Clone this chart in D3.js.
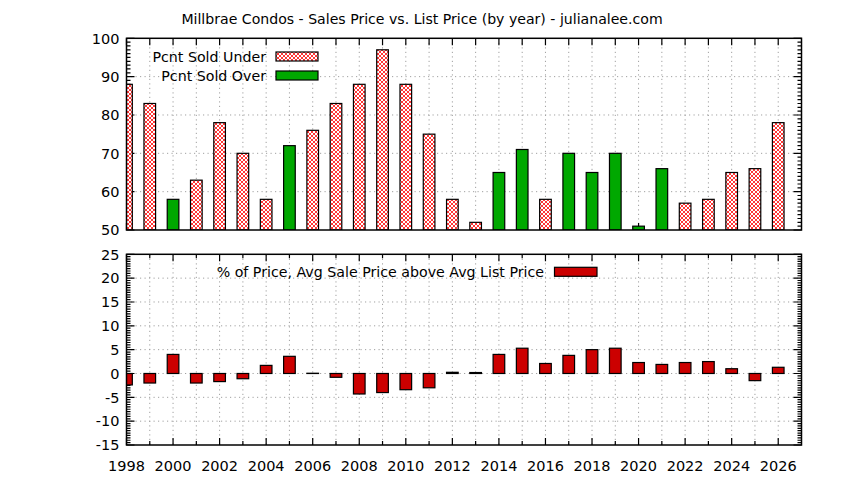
<!DOCTYPE html>
<html>
<head>
<meta charset="utf-8">
<script src="https://cdn.jsdelivr.net/npm/d3@7"></script>
<style>
  html, body { margin: 0; padding: 0; background: #fff; }
  svg { display: block; }
  text { font-family: "DejaVu Sans", sans-serif; fill: #000; }
</style>
</head>
<body>
<svg id="chart" width="844" height="480"></svg>
<script>
// ---------------- data ----------------
const titleText = "Millbrae Condos - Sales Price vs. List Price (by year) - julianalee.com";
const years = [1998,1999,2000,2001,2002,2003,2004,2005,2006,2007,2008,2009,2010,2011,2012,
               2013,2014,2015,2016,2017,2018,2019,2020,2021,2022,2023,2024,2025,2026];
const pctSoldUnder = [88,83,null,63,78,70,58,null,76,83,88,97,88,75,58,
                      52,null,null,58,null,null,null,null,null,57,58,65,66,78];
const pctSoldOver  = [null,null,58,null,null,null,null,72,null,null,null,null,null,null,null,
                      null,65,71,null,70,65,70,51,66,null,null,null,null,null];
const pctAboveList = [-2.4,-2.0,4.0,-2.0,-1.7,-1.1,1.7,3.6,0.05,-0.8,-4.3,-4.0,-3.4,-3.0,0.25,
                      0.2,4.0,5.3,2.1,3.8,5.0,5.3,2.3,1.9,2.3,2.5,1.0,-1.5,1.3];
const topYTicks = [50,60,70,80,90,100];
const botYTicks = [-15,-10,-5,0,5,10,15,20,25];
const xTickLabels = [1998,2000,2002,2004,2006,2008,2010,2012,2014,2016,2018,2020,2022,2024,2026];
const legendTop = ["Pcnt Sold Under", "Pcnt Sold Over"];
const legendBottom = "% of Price, Avg Sale Price above Avg List Price";

// ---------------- layout ----------------
const svg = d3.select("#chart");
const L = 126.5, R = 801.5;
const top1 = 38.3, bot1 = 230;
const top2 = 254.3, bot2 = 445;
const FS = 14.5;
const greenC = "#00a800", redC = "#cc0000", gridC = "#a0a0a0";

const x = d3.scaleLinear().domain([1998, 2027]).range([L, R]);
const y1 = d3.scaleLinear().domain([50, 100]).range([bot1, top1]);
const y2 = d3.scaleLinear().domain([-15, 25]).range([bot2, top2]);
const barW = x(1998.5) - x(1998);

// pattern for hatched fill
const defs = svg.append("defs");
const pat = defs.append("pattern").attr("id", "xhatch").attr("patternUnits", "userSpaceOnUse")
  .attr("width", 4).attr("height", 4);
pat.append("rect").attr("width", 4).attr("height", 4).attr("fill", "#fff");
pat.append("path").attr("d", "M0,0L4,4M4,0L0,4M-1,3L1,5M3,-1L5,1M-1,1L1,-1M3,5L5,3")
  .attr("stroke", "#ff2020").attr("stroke-width", 0.9).attr("fill", "none");
defs.append("clipPath").attr("id", "clip1").append("rect")
  .attr("x", L).attr("y", top1).attr("width", R - L).attr("height", bot1 - top1);
defs.append("clipPath").attr("id", "clip2").append("rect")
  .attr("x", L).attr("y", top2).attr("width", R - L).attr("height", bot2 - top2);

// title
svg.append("text").attr("x", 422).attr("y", 24).attr("text-anchor", "middle")
  .attr("font-size", FS - 0.4).text(titleText);

function panel(yS, yT, yB, majorTicks, minorStep, xMinorLen) {
  const g = svg.append("g");
  // grid
  const gg = g.append("g").attr("stroke", gridC).attr("stroke-width", 1)
    .attr("stroke-dasharray", "1.2,3.3").attr("fill", "none");
  gg.selectAll(".vg").data(years.slice(1)).join("line")
    .attr("x1", d => x(d)).attr("x2", d => x(d)).attr("y1", yT).attr("y2", yB);
  gg.selectAll(".hg").data(majorTicks.slice(1, -1)).join("line")
    .attr("x1", L).attr("x2", R).attr("y1", d => yS(d)).attr("y2", d => yS(d));
  // ticks
  const tk = g.append("g").attr("stroke", "#000").attr("stroke-width", 1.2);
  const minorVals = d3.range(yS.domain()[0], yS.domain()[1] + 1e-9, minorStep);
  tk.selectAll(".mn").data(minorVals).join("path")
    .attr("d", d => {
      const yy = yS(d), maj = majorTicks.some(m => Math.abs(m - d) < 1e-9);
      const len = maj ? 8 : 4;
      return `M${L},${yy}h${len}M${R},${yy}h${-len}`;
    });
  tk.selectAll(".xt").data(years).join("path")
    .attr("d", d => {
      const xx = x(d), len = xMinorLen(d);
      return `M${xx},${yT}v${len}M${xx},${yB}v${-len}`;
    });
  // y labels
  g.selectAll(".yl").data(majorTicks).join("text")
    .attr("x", L - 7).attr("y", d => yS(d)).attr("dy", "0.36em")
    .attr("text-anchor", "end").attr("font-size", FS).text(d => d);
  return g;
}

// ---------------- top panel ----------------
panel(y1, top1, bot1, topYTicks, 1, () => 7);
const bars1 = svg.append("g").attr("clip-path", "url(#clip1)");
bars1.selectAll(".u").data(years.map((yr, i) => ({yr, v: pctSoldUnder[i]})).filter(d => d.v != null))
  .join("rect")
  .attr("x", d => x(d.yr) - barW / 2).attr("width", barW)
  .attr("y", d => y1(d.v)).attr("height", d => y1(50) - y1(d.v))
  .attr("fill", "url(#xhatch)").attr("stroke", "#000").attr("stroke-width", 1.2);
bars1.selectAll(".o").data(years.map((yr, i) => ({yr, v: pctSoldOver[i]})).filter(d => d.v != null))
  .join("rect")
  .attr("x", d => x(d.yr) - barW / 2).attr("width", barW)
  .attr("y", d => y1(d.v)).attr("height", d => y1(50) - y1(d.v))
  .attr("fill", greenC).attr("stroke", "#000").attr("stroke-width", 1.2);
svg.append("rect").attr("x", L).attr("y", top1).attr("width", R - L).attr("height", bot1 - top1)
  .attr("fill", "none").attr("stroke", "#000").attr("stroke-width", 1.5);

// top legend
const lg1 = svg.append("g");
legendTop.forEach((t, i) => {
  const cy = 56.5 + i * 19;
  lg1.append("text").attr("x", 266).attr("y", cy).attr("dy", "0.36em")
    .attr("text-anchor", "end").attr("font-size", FS - 0.3).text(t);
  lg1.append("rect").attr("x", 276).attr("y", cy - 4.5).attr("width", 42).attr("height", 9)
    .attr("fill", i === 0 ? "url(#xhatch)" : greenC).attr("stroke", "#000").attr("stroke-width", 1.2);
});

// ---------------- bottom panel ----------------
panel(y2, top2, bot2, botYTicks, 0.5, d => (d % 2 === 0 ? 7 : 4));
const bars2 = svg.append("g").attr("clip-path", "url(#clip2)");
bars2.selectAll("rect").data(years.map((yr, i) => ({yr, v: pctAboveList[i]})))
  .join("rect")
  .attr("x", d => x(d.yr) - barW / 2).attr("width", barW)
  .attr("y", d => y2(Math.max(0, d.v))).attr("height", d => Math.abs(y2(d.v) - y2(0)))
  .attr("fill", redC).attr("stroke", "#000").attr("stroke-width", 1.2);
svg.append("rect").attr("x", L).attr("y", top2).attr("width", R - L).attr("height", bot2 - top2)
  .attr("fill", "none").attr("stroke", "#000").attr("stroke-width", 1.5);

// x labels
svg.selectAll(".xl").data(xTickLabels).join("text")
  .attr("x", d => x(d)).attr("y", 466).attr("dy", "0.36em")
  .attr("text-anchor", "middle").attr("font-size", FS).text(d => d);

// bottom legend
svg.append("text").attr("x", 544).attr("y", 271.7).attr("dy", "0.36em")
  .attr("text-anchor", "end").attr("font-size", 14.2).text(legendBottom);
svg.append("rect").attr("x", 554.5).attr("y", 267.3).attr("width", 42.5).attr("height", 9)
  .attr("fill", redC).attr("stroke", "#000").attr("stroke-width", 1.2);
</script>
</body>
</html>
